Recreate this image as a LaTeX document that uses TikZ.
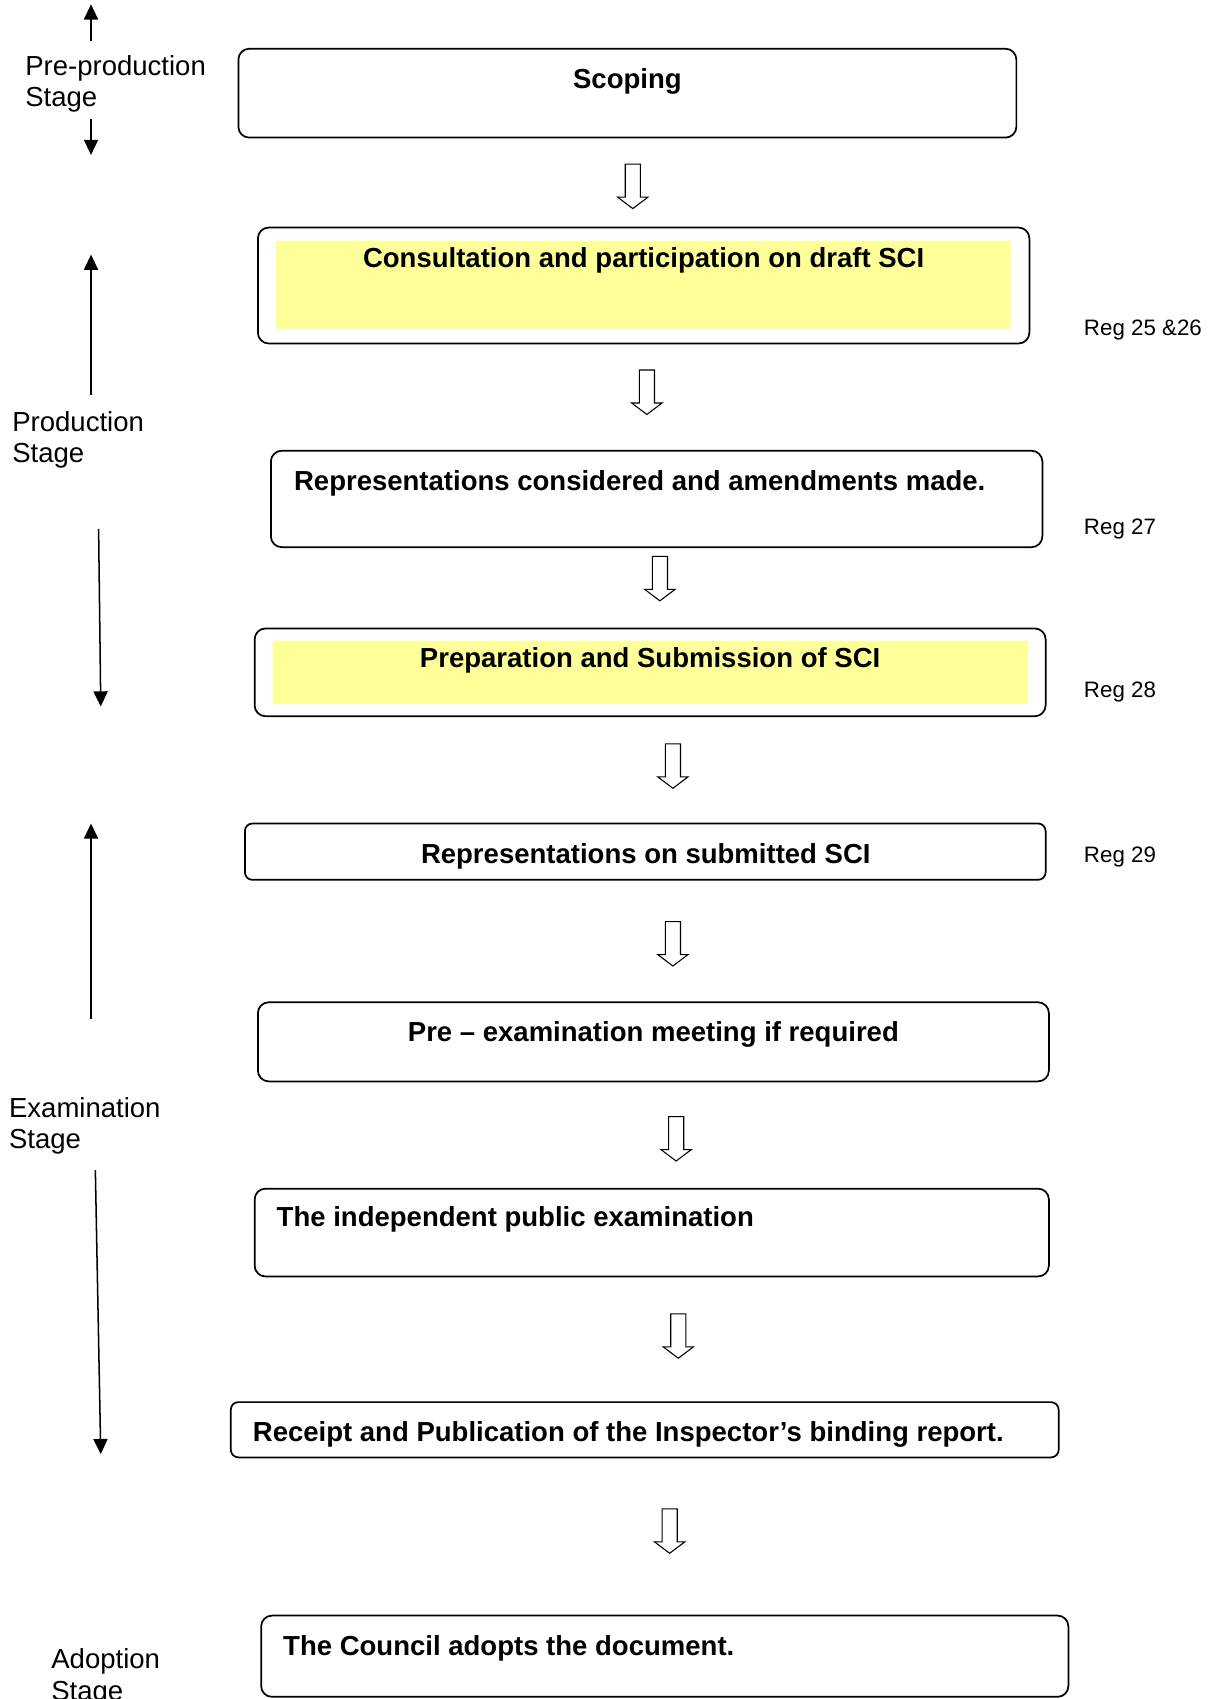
\documentclass[tikz,border=0pt]{standalone}
\usepackage{fontspec}
\setmainfont{Liberation Sans}
\usetikzlibrary{shapes.arrows,fit,arrows.meta}
\definecolor{hl}{HTML}{FFFF99}
\begin{document}
\begin{tikzpicture}[x=0.5pt,y=-0.5pt,
  box/.style={draw, line width=0.8pt, rounded corners=5pt, inner sep=0pt},
  thinbox/.style={draw, line width=0.8pt, rounded corners=3.5pt, inner sep=0pt},
  hlbox/.style={fill=hl, draw=none, inner sep=0pt},
  title/.style={font=\fontsize{12.7}{15}\selectfont\bfseries, inner sep=0pt},
  stage/.style={font=\fontsize{12.7}{15}\selectfont, inner sep=0pt, anchor=base west},
  reg/.style={font=\fontsize{10.3}{12}\selectfont, inner sep=0pt, anchor=base west},
  flow/.style={single arrow, draw, line width=0.5pt, rotate=-90, anchor=tail, minimum height=20.5pt, inner xsep=0pt, inner ysep=3.25pt, single arrow head extend=3.5pt, single arrow tip angle=106},
  stagearrow/.style={line width=0.7pt, -{Triangle[width=6.5pt,length=7pt]}}]
\useasboundingbox (0,0) rectangle (1125,1568);

% boxes
\node[box, fit={(220,45) (938,127)}] (b1) {};
\node[box, fit={(238,210) (950,317)}] (b2) {};
\node[hlbox, fit={(255,222) (933,304)}] (y2) {};
\node[box, fit={(250,416) (962,505)}] (b3) {};
\node[box, fit={(235,580) (965,661)}] (b4) {};
\node[hlbox, fit={(252,592) (949,650)}] (y4) {};
\node[thinbox, fit={(226,760) (965,812)}] (b5) {};
\node[box, fit={(238,925) (968,998)}] (b6) {};
\node[box, fit={(235,1097) (968,1178)}] (b7) {};
\node[thinbox, fit={(213,1294) (977,1345)}] (b8) {};
\node[box, fit={(241,1491) (986,1566)}] (b9) {};

% box texts
\node[title, anchor=base] (t1) at (579,81.5) {Scoping};
\node[title, anchor=base] (t2) at (594,247) {Consultation and participation on draft SCI};
\node[title, anchor=base west] (t3) at (271,453) {Representations considered and amendments made.};
\node[title, anchor=base] (t4) at (600,616) {Preparation and Submission of SCI};
\node[title, anchor=base] (t5) at (596,797) {Representations on submitted SCI};
\node[title, anchor=base] (t6) at (603,961) {Pre – examination meeting if required};
\node[title, anchor=base west] (t7) at (255,1132) {The independent public examination};
\node[title, anchor=base west] (t8) at (233,1330) {Receipt and Publication of the Inspector’s binding report.};
\node[title, anchor=base west] (t9) at (261,1528) {The Council adopts the document.};

% hollow flow arrows
\node[flow] (a1) at (584,151) {};
\node[flow] (a2) at (597,341) {};
\node[flow] (a3) at (609,513) {};
\node[flow] (a4) at (621,686) {};
\node[flow] (a5) at (621,850) {};
\node[flow] (a6) at (624,1030) {};
\node[flow] (a7) at (626,1212) {};
\node[flow] (a8) at (618,1392) {};

% regulation labels
\node[reg] (r1) at (1000,310) {Reg 25 \&26};
\node[reg] (r2) at (1000,493) {Reg 27};
\node[reg] (r3) at (1000,644) {Reg 28};
\node[reg] (r4) at (1000,796) {Reg 29};

% stage labels
\node[stage] (s1a) at (23,70) {Pre-production};
\node[stage] (s1b) at (23,98) {Stage};
\node[stage] (s2a) at (11,398) {Production};
\node[stage] (s2b) at (11,427) {Stage};
\node[stage] (s3a) at (8,1031) {Examination};
\node[stage] (s3b) at (8,1060) {Stage};
\node[stage] (s4a) at (47,1540) {Adoption};
\node[stage] (s4b) at (47,1569) {Stage};

% stage arrows
\coordinate (p1s) at (84,38);   \coordinate (p1e) at (84,4);
\coordinate (p2s) at (84,110);  \coordinate (p2e) at (84,143);
\coordinate (q1s) at (84,365);  \coordinate (q1e) at (84,235);
\coordinate (q2s) at (91,488);  \coordinate (q2e) at (93,652);
\coordinate (e1s) at (84,940);  \coordinate (e1e) at (84,760);
\coordinate (e2s) at (88,1080); \coordinate (e2e) at (93,1342);
\draw[stagearrow] (p1s) -- (p1e);
\draw[stagearrow] (p2s) -- (p2e);
\draw[stagearrow] (q1s) -- (q1e);
\draw[stagearrow] (q2s) -- (q2e);
\draw[stagearrow] (e1s) -- (e1e);
\draw[stagearrow] (e2s) -- (e2e);
\end{tikzpicture}
\end{document}
